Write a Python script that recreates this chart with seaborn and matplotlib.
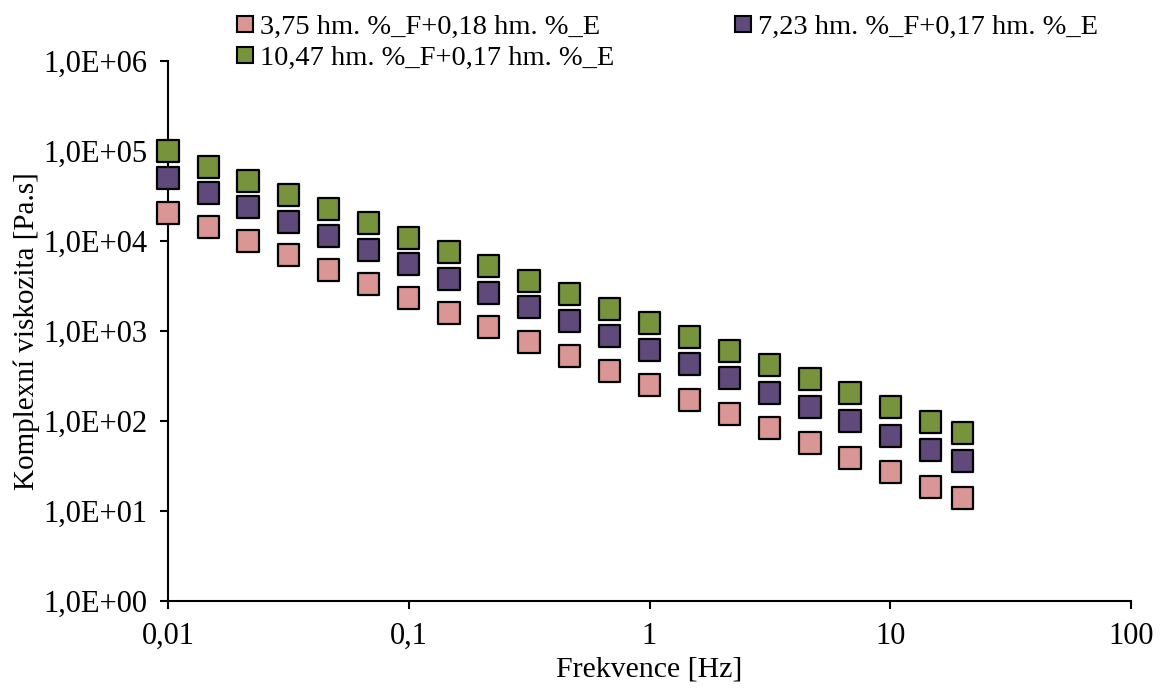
import numpy as np
import pandas as pd
import matplotlib
matplotlib.use("Agg")
import matplotlib.pyplot as plt
from matplotlib.ticker import NullLocator, FixedLocator
import seaborn as sns

# Oscillation frequencies [Hz]
freq = [0.01, 0.0147, 0.0215, 0.0316, 0.0464, 0.0681,
        0.1, 0.147, 0.215, 0.316, 0.464, 0.681,
        1.0, 1.47, 2.15, 3.16, 4.64, 6.81,
        10.0, 14.7, 20.0]

# Complex viscosity [Pa.s] for each blend
eta_a = [20460, 14300, 10000, 6990, 4760, 3330, 2330, 1585, 1108, 755, 527,
         359, 251, 171, 120, 83.6, 57, 38.8, 27.1, 18.5, 13.9]
eta_b = [50100, 34150, 23880, 16260, 11370, 7940, 5550, 3780, 2640, 1848, 1292,
         880, 615, 430, 300, 205, 143, 100, 68, 47.6, 35.9]
eta_c = [100000, 66400, 46400, 32400, 22680, 15850, 10800, 7550, 5270, 3590, 2580,
         1755, 1227, 858, 600, 419, 293, 205, 143, 97.5, 73.6]

series_names = ["3,75 hm. %_F+0,18 hm. %_E",
                "7,23 hm. %_F+0,17 hm. %_E",
                "10,47 hm. %_F+0,17 hm. %_E"]
series_colors = ["#DA9694", "#604A7B", "#77933C"]

x_ticks = [0.01, 0.1, 1, 10, 100]
x_tick_labels = ["0,01", "0,1", "1", "10", "100"]
y_ticks = [1e0, 1e1, 1e2, 1e3, 1e4, 1e5, 1e6]
y_tick_labels = ["1,0E+00", "1,0E+01", "1,0E+02", "1,0E+03",
                 "1,0E+04", "1,0E+05", "1,0E+06"]

df = pd.concat([
    pd.DataFrame({"f": freq, "eta": vals, "serie": name})
    for name, vals in zip(series_names, [eta_a, eta_b, eta_c])
], ignore_index=True)

sns.set_style("white")
plt.rcParams["font.family"] = ["Liberation Serif", "DejaVu Serif"]
plt.rcParams["text.color"] = "black"
plt.rcParams["axes.labelcolor"] = "black"
plt.rcParams["xtick.color"] = "black"
plt.rcParams["ytick.color"] = "black"

fig = plt.figure(figsize=(11.6, 6.89), dpi=100)
ax = fig.add_axes([168 / 1160, 1 - 601 / 689, (1131 - 168) / 1160, (601 - 61) / 689])

sns.scatterplot(data=df, x="f", y="eta", hue="serie", hue_order=series_names,
                palette=series_colors, marker="s", s=235, edgecolor="black",
                linewidth=1.6, ax=ax, legend=False, zorder=3, clip_on=False)

ax.set_xscale("log")
ax.set_yscale("log")
ax.set_xlim(0.01, 100)
ax.set_ylim(1, 1e6)

ax.xaxis.set_major_locator(FixedLocator(x_ticks))
ax.xaxis.set_minor_locator(NullLocator())
ax.yaxis.set_major_locator(FixedLocator(y_ticks))
ax.yaxis.set_minor_locator(NullLocator())
ax.set_xticklabels(x_tick_labels)
ax.set_yticklabels(y_tick_labels)

for side in ["top", "right"]:
    ax.spines[side].set_visible(False)
for side in ["left", "bottom"]:
    ax.spines[side].set_color("black")
    ax.spines[side].set_linewidth(1.5)

ax.tick_params(axis="both", which="major", direction="out", length=6, width=1.5,
               color="black", labelsize=22, labelcolor="black", pad=9,
               left=True, bottom=True)

ax.set_xlabel("Frekvence [Hz]", fontsize=21.5, labelpad=4, color="black")
ax.set_ylabel("Komplexní viskozita [Pa.s]", fontsize=21, labelpad=2, color="black")
ax.grid(False)

# Legend: two columns above the plot area
order = [0, 2, 1]
handles = [plt.Line2D([], [], linestyle="none", marker="s", markersize=11,
                      markerfacecolor=series_colors[i], markeredgecolor="black",
                      markeredgewidth=1.5) for i in order]
labels = [series_names[i] for i in order]
leg = fig.legend(handles, labels, ncol=2, loc="upper left",
                 bbox_to_anchor=(222 / 1160, 1 - 3 / 689), frameon=False,
                 fontsize=20.5, handletextpad=0.15, handlelength=0.8,
                 columnspacing=4.1, labelspacing=0.15, borderaxespad=0)
for t in leg.get_texts():
    t.set_color("black")

fig.savefig("out.png", dpi=100)
